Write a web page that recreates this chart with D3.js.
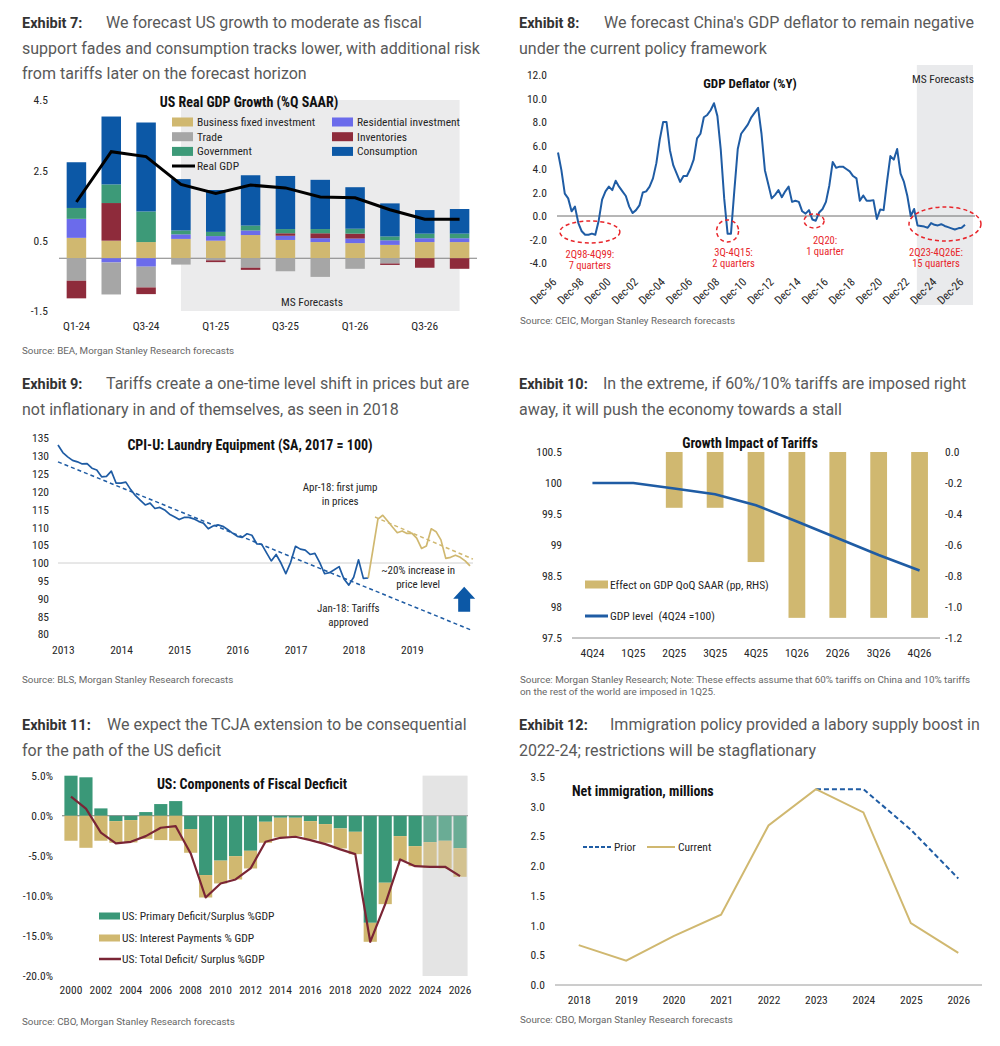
<!DOCTYPE html>
<html>
<head>
<meta charset="utf-8">
<script src="https://cdn.jsdelivr.net/npm/d3@7"></script>
<style>
  body { margin: 0; background: #fff; }
  svg text { font-family: 'Roboto Condensed', 'Liberation Sans Narrow', 'Arial Narrow', 'DejaVu Sans Condensed', Roboto, sans-serif; fill: #262626; }
  .hdr text { font-family: Roboto, 'Noto Sans', sans-serif; font-size: 16px; fill: #595959; }
  .hdr text.lab { font-size: 14.5px; font-weight: 700; fill: #333; }
  text.src { font-family: Roboto, sans-serif; font-size: 9.8px; fill: #666; }
  .ax text { font-size: 11.5px; fill: #262626; }
  text.ttl { font-size: 13.5px; font-weight: 700; fill: #111; }
  text.leg { font-size: 11.5px; }
  text.note { font-size: 11px; }
  text.red { font-size: 10.5px; fill: #e8262b; }
</style>
</head>
<body>
<div id="chart"></div>
<script>
// ---- Exhibit 7: US real GDP growth contributions (%Q SAAR) ----
var e7Quarters = ["Q1-24","Q2-24","Q3-24","Q4-24","Q1-25","Q2-25","Q3-25","Q4-25","Q1-26","Q2-26","Q3-26","Q4-26"];
var e7Bfi   = [0.58, 0.50, 0.46, 0.55, 0.50, 0.66, 0.52, 0.46, 0.43, 0.38, 0.46, 0.46];
var e7Resid = [0.54, -0.12, -0.24, 0.13, 0.13, 0.13, 0.12, 0.11, 0.13, 0.13, 0.11, 0.11];
var e7Trade = [-0.64, -0.91, -0.59, -0.18, -0.06, -0.27, -0.37, -0.53, -0.30, -0.15, 0, 0];
var e7Inv   = [-0.50, 1.07, -0.19, 0, -0.05, -0.06, 0.07, 0.14, 0.14, -0.04, -0.27, -0.30];
var e7Govt  = [0.31, 0.53, 0.87, 0.11, 0.12, 0.14, 0.12, 0.12, 0.14, 0.11, 0.13, 0.13];
var e7Cons  = [1.30, 1.93, 2.53, 1.46, 1.19, 1.43, 1.51, 1.40, 1.18, 0.94, 0.67, 0.70];
var e7Gdp   = [1.60, 3.03, 2.89, 2.10, 1.84, 2.08, 2.00, 1.74, 1.72, 1.38, 1.11, 1.11];
var e7Names = ["Business fixed investment","Residential investment","Trade","Inventories","Government","Consumption"];
var e7YTicks = [-1.5, 0.5, 2.5, 4.5];

// ---- Exhibit 8: China GDP deflator (%Y), quarterly 4Q96 .. 4Q26 ----
var e8Deflator = [
  5.4, 3.9, 1.9, 1.5, 0.4, 0.8, -0.6, -1.3, -1.6, -1.6,
  -1.5, -1.6, -0.4, 1.4, 2.1, 2.5, 2.2, 3.0, 2.5, 2.1,
  1.7, 0.8, 0.25, 0.5, 0.9, 2.0, 2.1, 2.5, 3.2, 4.5,
  6.5, 8.0, 8.0, 5.6, 4.3, 3.6, 2.9, 3.4, 3.4, 4.0,
  4.8, 6.6, 7.0, 8.4, 8.6, 9.0, 9.6, 8.5, 5.6, 1.5,
  -1.5, -1.5, 2.2, 5.7, 7.0, 7.4, 7.8, 8.4, 8.8, 9.2,
  7.0, 3.9, 2.7, 1.5, 1.8, 2.2, 1.6, 2.1, 2.5, 1.2,
  1.3, 1.2, 0.4, 0.2, 0.5, -0.3, -0.4, 0.3, 0.6, 1.2,
  2.6, 4.6, 4.1, 4.2, 4.2, 4.0, 3.8, 3.4, 3.2, 1.3,
  1.75, 1.3, 1.3, 1.35, -0.25, 0.55, 0.5, 2.9, 5.1, 4.8,
  5.7, 3.6, 2.9, 1.7, 0.0, 0.6, -0.8, -0.85, -0.9, -1.0,
  -0.6, -0.75, -0.8, -0.7, -0.85, -0.95, -1.05, -1.15, -1.05, -1.0, -0.75
];
var e8ForecastFrom = 105.8;   // quarter index where the shaded forecast starts (2Q23)
var e8YTicks = [-4, -2, 0, 2, 4, 6, 8, 10, 12];
var e8XTicks = [0, 8, 16, 24, 32, 40, 48, 56, 64, 72, 80, 88, 96, 104, 112, 120];
var e8XLabels = ["Dec-96","Dec-98","Dec-00","Dec-02","Dec-04","Dec-06","Dec-08","Dec-10","Dec-12","Dec-14","Dec-16","Dec-18","Dec-20","Dec-22","Dec-24","Dec-26"];
var e8Notes = [
  {i: 9.4,   v: -1.36, lines: ["2Q98-4Q99:", "7 quarters"]},
  {i: 50.0,  v: -1.27, lines: ["3Q-4Q15:", "2 quarters"]},
  {i: 75.5,  v: -0.42, lines: ["2Q20:", "1 quarter"]},
  {i: 114.1, v: -0.68, lines: ["2Q23-4Q26E:", "15 quarters"]}
];

// ---- Exhibit 9: CPI-U laundry equipment, monthly Dec-12 .. Jan-20 ----
var e9Cpi = [
  133.1, 131.0, 129.8, 128.8, 128.4, 127.8, 127.9, 126.6, 126.1, 124.2,
  124.3, 125.8, 122.4, 122.4, 122.7, 120.6, 118.9, 117.6, 116.3, 116.8,
  115.3, 115.6, 114.9, 113.7, 113.0, 112.2, 112.8, 112.8, 112.4, 111.7,
  111.2, 109.6, 110.4, 110.7, 110.3, 109.4, 108.4, 107.5, 107.2, 108.2,
  107.8, 105.4, 105.3, 102.9, 100.6, 102.4, 100.0, 97.0, 100.2, 104.7,
  103.9, 103.6, 102.4, 102.7, 100.1, 97.0, 97.3, 98.1, 99.0, 95.5,
  93.8, 96.0, 100.9, 95.7, 95.8, 104.0, 112.3, 113.4, 111.8, 110.1,
  108.5, 109.0, 108.3, 108.4, 107.0, 104.1, 104.8, 109.6, 108.8, 106.5,
  101.3, 101.6, 102.2, 101.6, 100.6, 99.2
];
var e9Split = 64;                               // first month after tariffs bite
var e9TrendPre  = [[0, 128.4], [85.6, 81.0]];   // [month index, level]
var e9TrendPost = [[65.4, 112.9], [85.6, 101.1]];
var e9YTicks = [80, 85, 90, 95, 100, 105, 110, 115, 120, 125, 130, 135];
var e9Years = [2013, 2014, 2015, 2016, 2017, 2018, 2019];

// ---- Exhibit 10: growth impact of tariffs ----
var e10Quarters = ["4Q24","1Q25","2Q25","3Q25","4Q25","1Q26","2Q26","3Q26","4Q26"];
var e10Effect = [0, 0, -0.36, -0.36, -0.71, -1.07, -1.07, -1.07, -1.07];
var e10Level  = [100, 100, 99.91, 99.82, 99.64, 99.38, 99.11, 98.84, 98.59];
var e10LeftTicks  = [97.5, 98, 98.5, 99, 99.5, 100, 100.5];
var e10RightTicks = [-1.2, -1.0, -0.8, -0.6, -0.4, -0.2, 0.0];

// ---- Exhibit 11: US fiscal deficit components (% GDP) ----
var e11Years = d3.range(2000, 2027).map(String);
var e11Primary  = [5.0, 4.8, 0.92, -0.67, -0.54, 0.46, 1.46, 1.83, -1.66, -7.4, -5.6, -5.04, -4.37, -0.75, -0.25, -0.25, -0.67, -1.04, -1.58, -2.0, -13.36, -8.36, -2.54, -3.79, -3.29, -3.12, -4.04];
var e11Interest = [-3.12, -4.0, -3.12, -2.7, -2.79, -2.87, -3.04, -3.12, -2.96, -2.8, -2.85, -2.91, -2.21, -2.62, -2.45, -2.29, -2.29, -2.33, -2.5, -2.79, -2.37, -2.67, -3.08, -2.5, -3.2, -3.46, -3.58];
var e11Total    = [2.4, 0.9, -2.1, -3.45, -3.25, -2.54, -1.5, -1.3, -4.7, -10.2, -8.45, -7.95, -6.58, -3.25, -2.75, -2.62, -3.04, -3.54, -4.2, -4.79, -15.73, -11.03, -5.45, -6.29, -6.37, -6.37, -7.54];
var e11ForecastFrom = "2024";
var e11YTicks = [-20, -15, -10, -5, 0, 5];
var e11Names = ["US: Primary Deficit/Surplus %GDP", "US: Interest Payments % GDP", "US: Total Deficit/ Surplus %GDP"];

// ---- Exhibit 12: net immigration, millions ----
var e12Years = ["2018","2019","2020","2021","2022","2023","2024","2025","2026"];
var e12Current = [0.67, 0.41, 0.82, 1.18, 2.68, 3.29, 2.90, 1.04, 0.54];
var e12Prior   = [null, null, null, null, null, 3.29, 3.29, 2.61, 1.79];
var e12YTicks = [0, 0.5, 1.0, 1.5, 2.0, 2.5, 3.0, 3.5];

// colours
var gold = "#d0b870", navy = "#0c58a6", lineBlue = "#1f5ca4", teal = "#3a9878", maroon = "#7a2535";
var e7Keys = ["bfi", "resid", "trade", "inv", "govt", "cons"];
var e7Colors = {bfi: gold, resid: "#6b6beb", trade: "#a6a6a6", inv: "#8e2b3b", govt: "#3d9a78", cons: navy};

var svg = d3.select("#chart").append("svg")
  .attr("width", 1000)
  .attr("height", 1046);
svg.append("rect").attr("width", 1000).attr("height", 1046).attr("fill", "#fff");

function header(x, y, label, bodyX, lines) {
  var g = svg.append("g").attr("class", "hdr");
  g.append("text").attr("class", "lab").attr("x", x).attr("y", y).text(label);
  lines.forEach(function(l, i) {
    g.append("text").attr("x", i === 0 ? bodyX : x).attr("y", y + i * 25.5).text(l);
  });
}
function source(x, y, txt) {
  svg.append("text").attr("class", "src").attr("x", x).attr("y", y).text(txt);
}
function title(x, y, txt, anchor, size) {
  svg.append("text").attr("class", "ttl").attr("x", x).attr("y", y)
    .attr("text-anchor", anchor || "middle")
    .style("font-size", size ? size + "px" : null)
    .text(txt);
}
function hline(x1, x2, y, color) {
  svg.append("line").attr("x1", x1).attr("x2", x2).attr("y1", y).attr("y2", y)
    .attr("stroke", color).attr("stroke-width", 1);
}
function leftAxis(scale, x, ticks, fmt) {
  svg.append("g").attr("class", "ax").attr("transform", "translate(" + (x + 3) + ",0)")
    .call(d3.axisLeft(scale).tickValues(ticks).tickFormat(fmt).tickSize(0))
    .call(function(g) { g.select(".domain").remove(); });
}
function bottomAxis(scale, y, ticks, fmt) {
  var ax = d3.axisBottom(scale).tickSize(0).tickFormat(fmt);
  if (ticks) ax.tickValues(ticks);
  return svg.append("g").attr("class", "ax").attr("transform", "translate(0," + (y - 7) + ")")
    .call(ax)
    .call(function(g) { g.select(".domain").remove(); });
}
var fix1 = function(d) { return d.toFixed(1); };

// headers and sources
header(22, 28, "Exhibit 7:", 106, ["We forecast US growth to moderate as fiscal", "support fades and consumption tracks lower, with additional risk", "from tariffs later on the forecast horizon"]);
header(519, 28, "Exhibit 8:", 604, ["We forecast China's GDP deflator to remain negative", "under the current policy framework"]);
header(22, 389, "Exhibit 9:", 106, ["Tariffs create a one-time level shift in prices but are", "not inflationary in and of themselves, as seen in 2018"]);
header(519, 389, "Exhibit 10:", 603, ["In the extreme, if 60%/10% tariffs are imposed right", "away, it will push the economy towards a stall"]);
header(22, 730, "Exhibit 11:", 107, ["We expect the TCJA extension to be consequential", "for the path of the US deficit"]);
header(519, 730, "Exhibit 12:", 610, ["Immigration policy provided a labory supply boost in", "2022-24; restrictions will be stagflationary"]);
source(22, 354, "Source: BEA, Morgan Stanley Research forecasts");
source(520, 324, "Source: CEIC, Morgan Stanley Research forecasts");
source(22, 683, "Source: BLS, Morgan Stanley Research forecasts");
source(520, 683, "Source: Morgan Stanley Research; Note: These effects assume that 60% tariffs on China and 10% tariffs");
source(520, 695, "on the rest of the world are imposed in 1Q25.");
source(22, 1025, "Source: CBO, Morgan Stanley Research forecasts");
source(520, 1023, "Source: CBO, Morgan Stanley Research forecasts");

// ================= Exhibit 7 =================
var x7 = d3.scaleBand().domain(e7Quarters).range([59, 477]).paddingInner(0.44).paddingOuter(0.22);
var y7 = d3.scaleLinear().domain([-1.5, 4.5]).range([311, 100]);
var half7 = x7.bandwidth() / 2;
svg.append("rect")
  .attr("x", x7("Q4-24") + half7).attr("y", y7(4.5))
  .attr("width", x7("Q4-26") - x7("Q4-24")).attr("height", y7(-1.5) - y7(4.5))
  .attr("fill", "#ebebec");
hline(59, 477, y7(0), "#808080");
var rows7 = e7Quarters.map(function(q, i) {
  return {q: q, bfi: e7Bfi[i], resid: e7Resid[i], trade: e7Trade[i], inv: e7Inv[i], govt: e7Govt[i], cons: e7Cons[i]};
});
var stack7 = d3.stack().keys(e7Keys).offset(d3.stackOffsetDiverging)(rows7);
svg.append("g").selectAll("g").data(stack7).enter().append("g")
  .attr("fill", function(d) { return e7Colors[d.key]; })
  .selectAll("rect").data(function(d) { return d; }).enter().append("rect")
  .attr("x", function(d) { return x7(d.data.q); })
  .attr("width", x7.bandwidth())
  .attr("y", function(d) { return y7(d[1]); })
  .attr("height", function(d) { return y7(d[0]) - y7(d[1]); });
svg.append("path").datum(e7Gdp)
  .attr("fill", "none").attr("stroke", "#000").attr("stroke-width", 3)
  .attr("d", d3.line().x(function(d, i) { return x7(e7Quarters[i]) + half7; }).y(function(d) { return y7(d); }));
leftAxis(y7, 48, e7YTicks, fix1);
bottomAxis(x7, 326, null, function(d, i) { return i % 2 === 0 ? d : ""; });
title(249, 107, "US Real GDP Growth (%Q SAAR)", "middle", 14);
svg.append("text").attr("class", "leg").attr("x", 312).attr("y", 306).attr("text-anchor", "middle").text("MS Forecasts");
var leg7 = svg.append("g");
e7Keys.forEach(function(k, i) {
  var lx = i % 2 === 0 ? 172 : 332, ly = 122 + Math.floor(i / 2) * 14.7;
  leg7.append("rect").attr("x", lx).attr("y", ly - 4.5).attr("width", 21).attr("height", 9).attr("fill", e7Colors[k]);
  leg7.append("text").attr("class", "leg").attr("x", lx + 25).attr("y", ly + 4).text(e7Names[i]);
});
leg7.append("line").attr("x1", 172).attr("x2", 195).attr("y1", 166).attr("y2", 166).attr("stroke", "#000").attr("stroke-width", 3);
leg7.append("text").attr("class", "leg").attr("x", 197).attr("y", 170).text("Real GDP");

// ================= Exhibit 8 =================
var x8 = d3.scaleLinear().domain([0, 120]).range([558, 965]);
var y8 = d3.scaleLinear().domain([-4, 12]).range([263, 75]);
svg.append("rect").attr("x", x8(e8ForecastFrom)).attr("y", 65)
  .attr("width", 973 - x8(e8ForecastFrom)).attr("height", 240).attr("fill", "#e9eaec");
hline(557, 975, y8(0), "#6e6e6e");
svg.append("path").datum(e8Deflator)
  .attr("fill", "none").attr("stroke", lineBlue).attr("stroke-width", 2).attr("stroke-linejoin", "round")
  .attr("d", d3.line().x(function(d, i) { return x8(i); }).y(function(d) { return y8(d); }));
leftAxis(y8, 547, e8YTicks, fix1);
bottomAxis(x8, 282, e8XTicks, function(d, i) { return e8XLabels[i]; })
  .selectAll("text")
  .attr("x", 0).attr("y", 0).attr("dy", "0.35em")
  .attr("transform", "translate(-4,5) rotate(-45)")
  .style("text-anchor", "end");
title(750, 88, "GDP Deflator (%Y)", "middle", 13);
svg.append("text").attr("class", "leg").attr("x", 943).attr("y", 83).attr("text-anchor", "middle").text("MS Forecasts");
var ring8 = [{rx: 30, ry: 11, tx: 0, ty: 26}, {rx: 11, ry: 11, tx: 6, ty: 25}, {rx: 10, ry: 7, tx: 11, ty: 23}, {rx: 36, ry: 17, tx: -9, ty: 32}];
e8Notes.forEach(function(n, k) {
  var cx = x8(n.i), cy = y8(n.v), r = ring8[k];
  svg.append("ellipse").attr("cx", cx).attr("cy", cy).attr("rx", r.rx).attr("ry", r.ry)
    .attr("fill", "none").attr("stroke", "#e8262b").attr("stroke-width", 1.5).attr("stroke-dasharray", "4,3");
  n.lines.forEach(function(l, j) {
    svg.append("text").attr("class", "red").attr("x", cx + r.tx).attr("y", cy + r.ty + j * 11)
      .attr("text-anchor", "middle").text(l);
  });
});

// ================= Exhibit 9 =================
var x9 = d3.scaleLinear().domain([0, 85]).range([58, 470]);
var y9 = d3.scaleLinear().domain([80, 135]).range([634.3, 438.3]);
hline(58, 473, y9(100), "#d0d0d0");
var line9 = d3.line().x(function(d) { return x9(d[0]); }).y(function(d) { return y9(d[1]); });
var pts9 = e9Cpi.map(function(v, i) { return [i, v]; });
svg.append("path").datum(e9TrendPre).attr("fill", "none").attr("stroke", lineBlue)
  .attr("stroke-width", 1.5).attr("stroke-dasharray", "4,3").attr("d", line9);
svg.append("path").datum(e9TrendPost).attr("fill", "none").attr("stroke", gold)
  .attr("stroke-width", 1.5).attr("stroke-dasharray", "4,3").attr("d", line9);
svg.append("path").datum(pts9.slice(0, e9Split + 1)).attr("fill", "none").attr("stroke", lineBlue)
  .attr("stroke-width", 1.7).attr("stroke-linejoin", "round").attr("d", line9);
svg.append("path").datum(pts9.slice(e9Split)).attr("fill", "none").attr("stroke", gold)
  .attr("stroke-width", 1.7).attr("stroke-linejoin", "round").attr("d", line9);
leftAxis(y9, 49, e9YTicks, function(d) { return d; });
bottomAxis(x9, 650, e9Years.map(function(y) { return (y - 2013) * 12 + 1; }), function(d, i) { return e9Years[i]; });
title(250, 450, "CPI-U: Laundry Equipment (SA, 2017 = 100)", "middle", 14);
[[58.2, 120.2, "Apr-18: first jump"], [58.2, 116.3, "in prices"],
 [74.3, 96.9, "~20% increase in"], [74.3, 93.1, "price level"],
 [59.9, 86.3, "Jan-18: Tariffs"], [59.9, 82.4, "approved"]].forEach(function(t) {
  svg.append("text").attr("class", "note").attr("x", x9(t[0])).attr("y", y9(t[1]))
    .attr("text-anchor", "middle").text(t[2]);
});
svg.append("path")
  .attr("transform", "translate(" + x9(83.8) + "," + y9(90) + ")")
  .attr("d", "M-11,0 L0,-12 L11,0 L6,0 L6,13 L-6,13 L-6,0 Z")
  .attr("fill", navy);

// ================= Exhibit 10 =================
var x10 = d3.scaleBand().domain(e10Quarters).range([572, 940]).paddingInner(0.59).paddingOuter(0.295);
var yL10 = d3.scaleLinear().domain([97.5, 100.5]).range([638, 452]);
var yR10 = d3.scaleLinear().domain([-1.2, 0]).range([638, 452]);
svg.append("g").selectAll("rect").data(e10Effect).enter().append("rect")
  .attr("x", function(d, i) { return x10(e10Quarters[i]); })
  .attr("width", x10.bandwidth())
  .attr("y", yR10(0))
  .attr("height", function(d) { return yR10(d) - yR10(0); })
  .attr("fill", gold);
hline(572, 940, 638, "#8c8c8c");
svg.append("path").datum(e10Level)
  .attr("fill", "none").attr("stroke", lineBlue).attr("stroke-width", 2.6)
  .attr("d", d3.line().x(function(d, i) { return x10(e10Quarters[i]) + x10.bandwidth() / 2; }).y(function(d) { return yL10(d); }));
leftAxis(yL10, 562, e10LeftTicks, function(d) { return String(d); });
svg.append("g").attr("class", "ax").attr("transform", "translate(942,0)")
  .call(d3.axisRight(yR10).tickValues(e10RightTicks).tickFormat(fix1).tickSize(0))
  .call(function(g) { g.select(".domain").remove(); });
bottomAxis(x10, 653, null, function(d) { return d; });
title(750, 448, "Growth Impact of Tariffs", "middle", 14);
svg.append("rect").attr("x", 585).attr("y", 580.5).attr("width", 23).attr("height", 8).attr("fill", gold);
svg.append("text").attr("class", "leg").attr("x", 610).attr("y", 588.5).text("Effect on GDP QoQ SAAR (pp, RHS)");
svg.append("line").attr("x1", 585).attr("x2", 608).attr("y1", 616).attr("y2", 616).attr("stroke", lineBlue).attr("stroke-width", 3);
svg.append("text").attr("class", "leg").attr("x", 610).attr("y", 620).attr("xml:space", "preserve").text("GDP level  (4Q24 =100)");

// ================= Exhibit 11 =================
var x11 = d3.scaleBand().domain(e11Years).range([63.5, 467.5]).paddingInner(0.12).paddingOuter(0.06);
var y11 = d3.scaleLinear().domain([-20, 5]).range([976, 775.7]);
var shadeX11 = x11(e11ForecastFrom) - x11.step() * 0.06;
svg.append("rect").attr("x", shadeX11).attr("y", y11(5))
  .attr("width", 467.5 - shadeX11).attr("height", y11(-20) - y11(5)).attr("fill", "#e8e8e8");
hline(62, 468, y11(0), "#7a7a7a");
var rows11 = e11Years.map(function(y, i) { return {y: y, primary: e11Primary[i], interest: e11Interest[i]}; });
var stack11 = d3.stack().keys(["primary", "interest"]).offset(d3.stackOffsetDiverging)(rows11);
var col11 = {primary: teal, interest: gold};
svg.append("g").selectAll("g").data(stack11).enter().append("g")
  .attr("fill", function(d) { return col11[d.key]; })
  .selectAll("rect").data(function(d) { return d; }).enter().append("rect")
  .attr("x", function(d) { return x11(d.data.y); })
  .attr("width", x11.bandwidth())
  .attr("y", function(d) { return y11(d[1]); })
  .attr("height", function(d) { return y11(d[0]) - y11(d[1]); });
svg.append("rect").attr("x", shadeX11).attr("y", y11(5))
  .attr("width", 467.5 - shadeX11).attr("height", y11(-20) - y11(5))
  .attr("fill", "#dcdcdc").attr("opacity", 0.3);
svg.append("path").datum(e11Total)
  .attr("fill", "none").attr("stroke", maroon).attr("stroke-width", 2.2).attr("stroke-linejoin", "round")
  .attr("d", d3.line().x(function(d, i) { return x11(e11Years[i]) + x11.bandwidth() / 2; }).y(function(d) { return y11(d); }));
leftAxis(y11, 53, e11YTicks, function(d) { return d.toFixed(1) + "%"; });
bottomAxis(x11, 990, null, function(d, i) { return i % 2 === 0 ? d : ""; });
title(252, 789, "US: Components of Fiscal Decficit", "middle", 14);
[teal, gold].forEach(function(c, i) {
  svg.append("rect").attr("x", 99).attr("y", 912.5 + i * 22).attr("width", 21).attr("height", 7).attr("fill", c);
  svg.append("text").attr("class", "leg").attr("x", 122).attr("y", 920 + i * 22).text(e11Names[i]);
});
svg.append("line").attr("x1", 99).attr("x2", 121).attr("y1", 959).attr("y2", 959).attr("stroke", maroon).attr("stroke-width", 2.5);
svg.append("text").attr("class", "leg").attr("x", 122).attr("y", 963).text(e11Names[2]);

// ================= Exhibit 12 =================
var x12 = d3.scalePoint().domain(e12Years).range([555, 982]).padding(0.5);
var y12 = d3.scaleLinear().domain([0, 3.5]).range([985, 776.7]);
hline(555, 982, y12(0), "#9a9a9a");
var line12 = d3.line()
  .defined(function(d) { return d !== null; })
  .x(function(d, i) { return x12(e12Years[i]); })
  .y(function(d) { return y12(d); });
svg.append("path").datum(e12Prior).attr("fill", "none").attr("stroke", lineBlue)
  .attr("stroke-width", 2).attr("stroke-dasharray", "5,3").attr("d", line12);
svg.append("path").datum(e12Current).attr("fill", "none").attr("stroke", gold)
  .attr("stroke-width", 2).attr("d", line12);
leftAxis(y12, 545, e12YTicks, fix1);
bottomAxis(x12, 1000, null, function(d) { return d; });
title(572, 796, "Net immigration, millions", "start", 14);
svg.append("line").attr("x1", 583).attr("x2", 612).attr("y1", 847).attr("y2", 847)
  .attr("stroke", lineBlue).attr("stroke-width", 2).attr("stroke-dasharray", "4,2");
svg.append("text").attr("class", "leg").attr("x", 614).attr("y", 851).text("Prior");
svg.append("line").attr("x1", 647).attr("x2", 675).attr("y1", 847).attr("y2", 847)
  .attr("stroke", gold).attr("stroke-width", 2);
svg.append("text").attr("class", "leg").attr("x", 678).attr("y", 851).text("Current");
</script>
</body>
</html>
